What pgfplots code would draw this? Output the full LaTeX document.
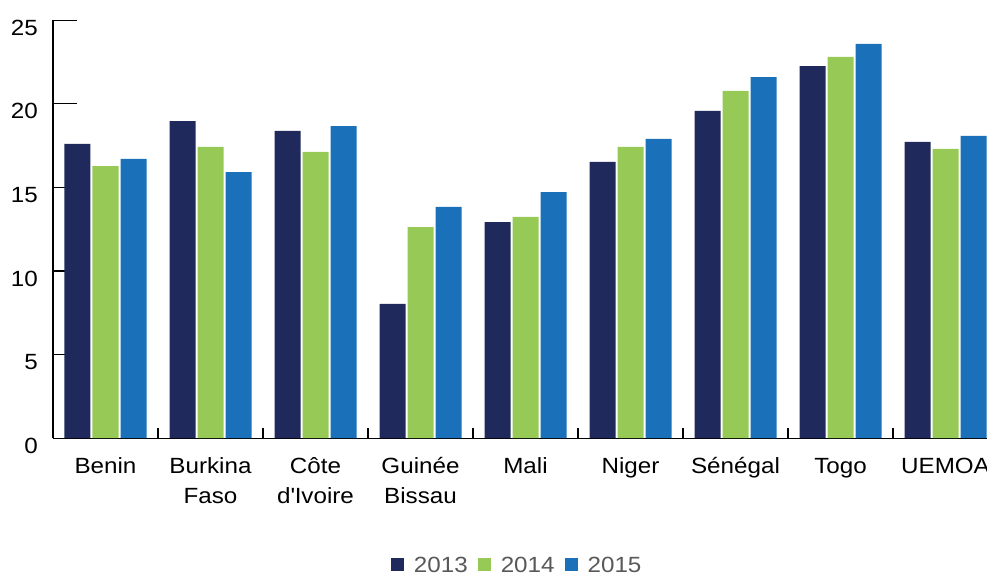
\documentclass[border=0pt]{standalone}
\usepackage{fontspec}
\setmainfont[FakeStretch=1.1]{Liberation Sans}
\usepackage{pgfplots}
\pgfplotsset{compat=1.18}
\definecolor{c13}{HTML}{1F295B}
\definecolor{c14}{HTML}{97C956}
\definecolor{c15}{HTML}{1A70B9}
\definecolor{cLeg}{HTML}{595959}
\newcommand\lf{\fontsize{22pt}{30pt}\selectfont}
\pgfplotsset{
  legsq/.style={legend image code/.code={\fill[##1] (0pt,-6pt) rectangle (13pt,7pt);}},
}
\begin{document}
\begin{tikzpicture}
\begin{axis}[
  x=105pt, y=16.72pt,
  xmin=-0.5, xmax=8.395,
  ymin=0, ymax=25,
  enlargelimits=false,
  clip=false,
  ybar=2pt,
  bar width=26pt,
  axis x line*=bottom,
  axis y line*=left,
  axis line style={-, line width=1.3pt, black},
  tick style={line width=1.3pt, black},
  tick align=inside,
  major tick length=24pt,
  minor tick length=10pt,
  ytick={0,5,...,25},
  xtick={0,...,8},
  minor xtick={0.5,1.5,...,7.5},
  major x tick style={draw=none},
  xticklabels={Benin\\\mbox{}, Burkina\\Faso, Côte\\d\textquotesingle Ivoire, Guinée\\Bissau,
    Mali\\\mbox{}, Niger\\\mbox{}, Sénégal\\\mbox{}, Togo\\\mbox{}, UEMOA\\\mbox{}},
  xticklabel style={font=\lf, align=center, anchor=base, inner sep=0pt, yshift=-65pt},
  yticklabel style={font=\lf, anchor=east, inner sep=0pt, xshift=-15pt, yshift=-7.5pt},
  /pgf/number format/assume math mode=true,
  legend style={at={(0.497,-0.304)}, anchor=center, draw=none, font=\lf,
    text=cLeg, column sep=8pt, inner sep=0pt},
  legend columns=3,
]
\coordinate (bl) at (rel axis cs:0,0);

% 2013
\addplot[fill=c13, draw=none, legsq] coordinates {
  (0,17.60)(1,18.97)(2,18.38)(3,8.03)(4,12.93)(5,16.52)(6,19.57)(7,22.26)(8,17.72)
};
\addlegendentry{2013}

% 2014
\addplot[fill=c14, draw=none, legsq] coordinates {
  (0,16.28)(1,17.42)(2,17.13)(3,12.63)(4,13.23)(5,17.42)(6,20.77)(7,22.80)(8,17.30)
};
\addlegendentry{2014}

% 2015
\addplot[fill=c15, draw=none, legsq] coordinates {
  (0,16.70)(1,15.92)(2,18.67)(3,13.83)(4,14.72)(5,17.90)(6,21.60)(7,23.58)(8,18.08)
};
\addlegendentry{2015}

\end{axis}
\pgfresetboundingbox
\path[use as bounding box] ([shift={(-53pt,-135.8pt)}]bl) rectangle ([shift={(934pt,438.2pt)}]bl);
\end{tikzpicture}
\end{document}
